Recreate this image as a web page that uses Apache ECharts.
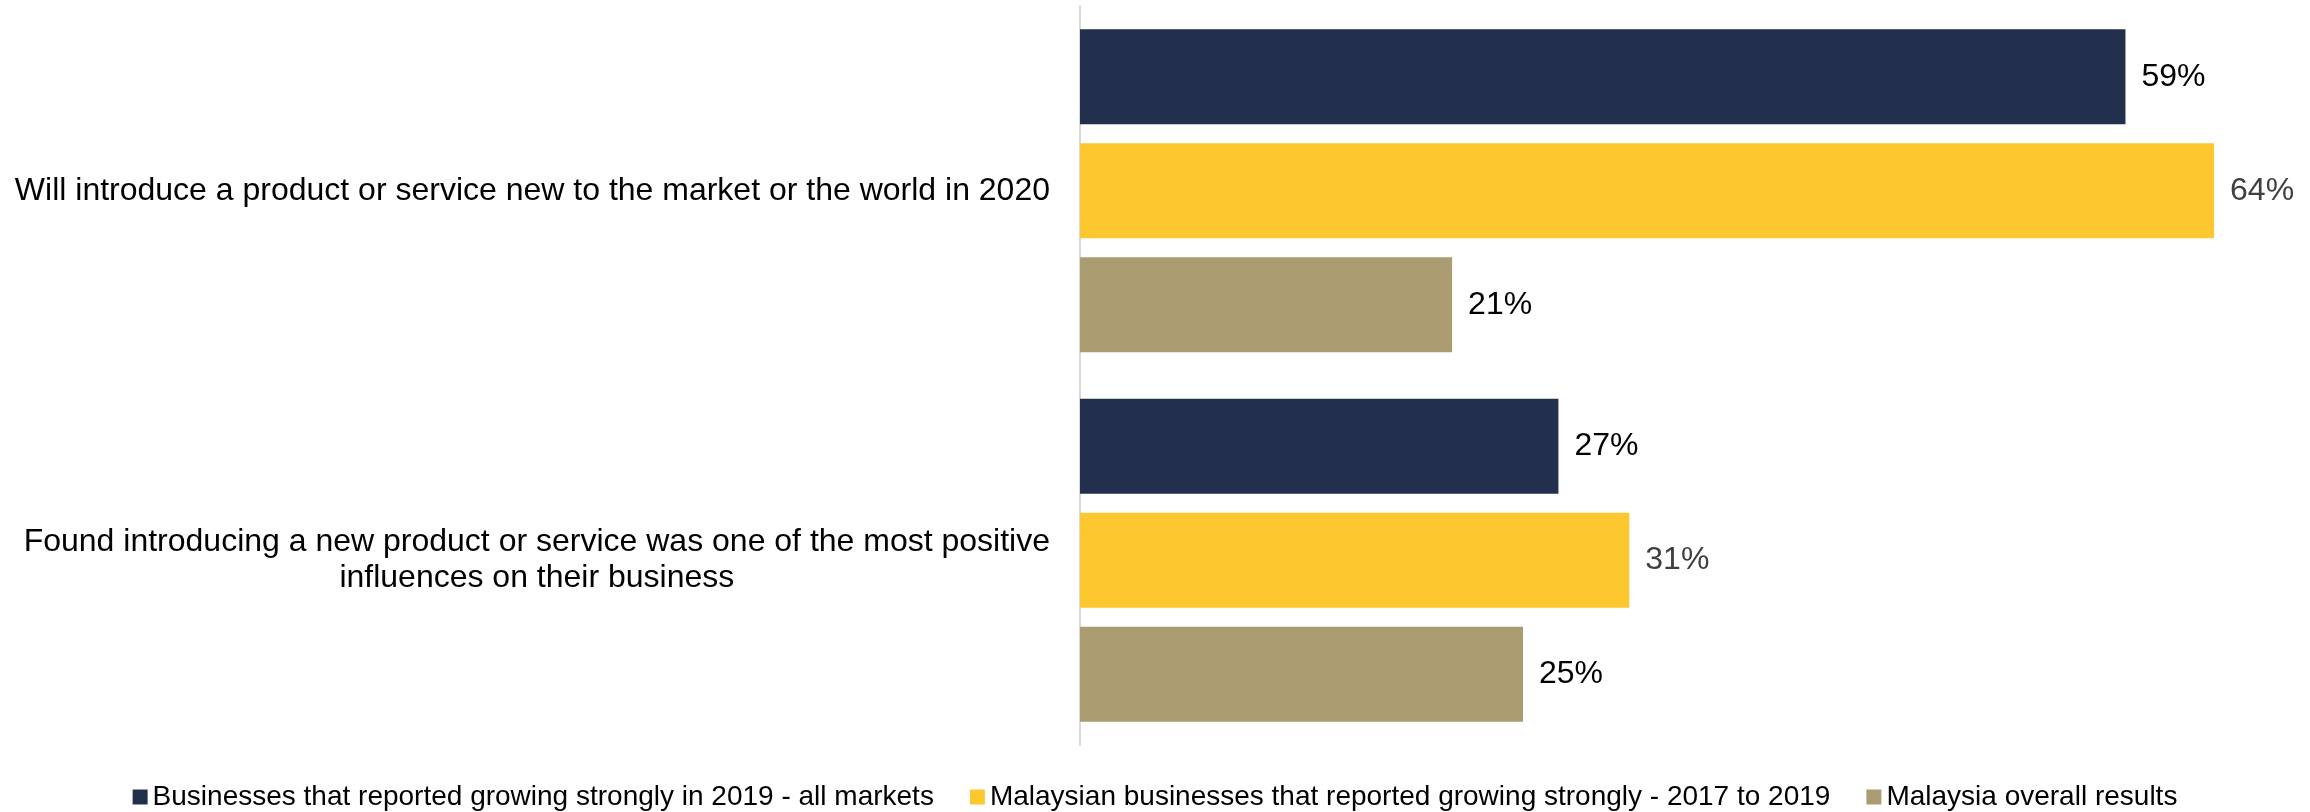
<!DOCTYPE html>
<html>
<head>
<meta charset="utf-8">
<script src="https://cdn.jsdelivr.net/npm/echarts@6/dist/echarts.min.js"></script>
<style>
  html, body { margin: 0; padding: 0; background: #ffffff; }
  #chart { width: 2310px; height: 812px; }
</style>
</head>
<body>
<div id="chart"></div>
<script>
// Survey statements, listed top to bottom
const categories = [
  'Will introduce a product or service new to the market or the world in 2020',
  'Found introducing a new product or service was one of the most positive\ninfluences on their business'
];

const seriesNames = [
  'Businesses that reported growing strongly in 2019 - all markets',
  'Malaysian businesses that reported growing strongly - 2017 to 2019',
  'Malaysia overall results'
];

// Share of respondents (%)
const allMarketsGrowers = [59, 27];
const malaysianGrowers = [64, 31];
const malaysiaOverall = [21, 25];

const colors = ['#22304D', '#FCC72F', '#AB9B70'];
const labelColors = ['#000000', '#404040', '#000000'];

const FONT = '"Liberation Sans", Arial, Helvetica, sans-serif';

const chart = echarts.init(document.getElementById('chart'), null, { renderer: 'canvas' });

function barSeries(idx, values) {
  return {
    name: seriesNames[idx],
    type: 'bar',
    data: values,
    barWidth: 95,
    barGap: '20%',
    itemStyle: { color: colors[idx] },
    label: {
      show: true,
      position: 'right',
      distance: 16,
      formatter: p => p.value + '%',
      color: labelColors[idx],
      fontSize: 32,
      fontFamily: FONT
    },
    emphasis: { disabled: true }
  };
}

chart.setOption({
  animation: false,
  backgroundColor: '#ffffff',
  grid: { left: 1080, right: 80, top: 6, bottom: 67, containLabel: false },
  xAxis: {
    type: 'value',
    min: 0,
    max: 64.9,
    show: false
  },
  yAxis: {
    type: 'category',
    inverse: true,
    data: categories,
    axisLine: { show: true, lineStyle: { color: '#D9D9D9', width: 2 } },
    axisTick: { show: false },
    axisLabel: {
      margin: 30,
      fontSize: 32,
      fontFamily: FONT,
      color: '#000000',
      lineHeight: 36,
      formatter: v => v.split('\n').map(s => '{c|' + s + '}').join('\n'),
      rich: {
        c: { align: 'center', fontSize: 32, lineHeight: 36, fontFamily: FONT, color: '#000000' }
      }
    }
  },
  legend: {
    top: 778,
    left: 'center',
    icon: 'rect',
    itemWidth: 15,
    itemHeight: 15,
    itemGap: 36,
    textStyle: { fontSize: 28, fontFamily: FONT, color: '#000000' },
    data: seriesNames
  },
  series: [
    barSeries(0, allMarketsGrowers),
    barSeries(1, malaysianGrowers),
    barSeries(2, malaysiaOverall)
  ]
});
</script>
</body>
</html>
